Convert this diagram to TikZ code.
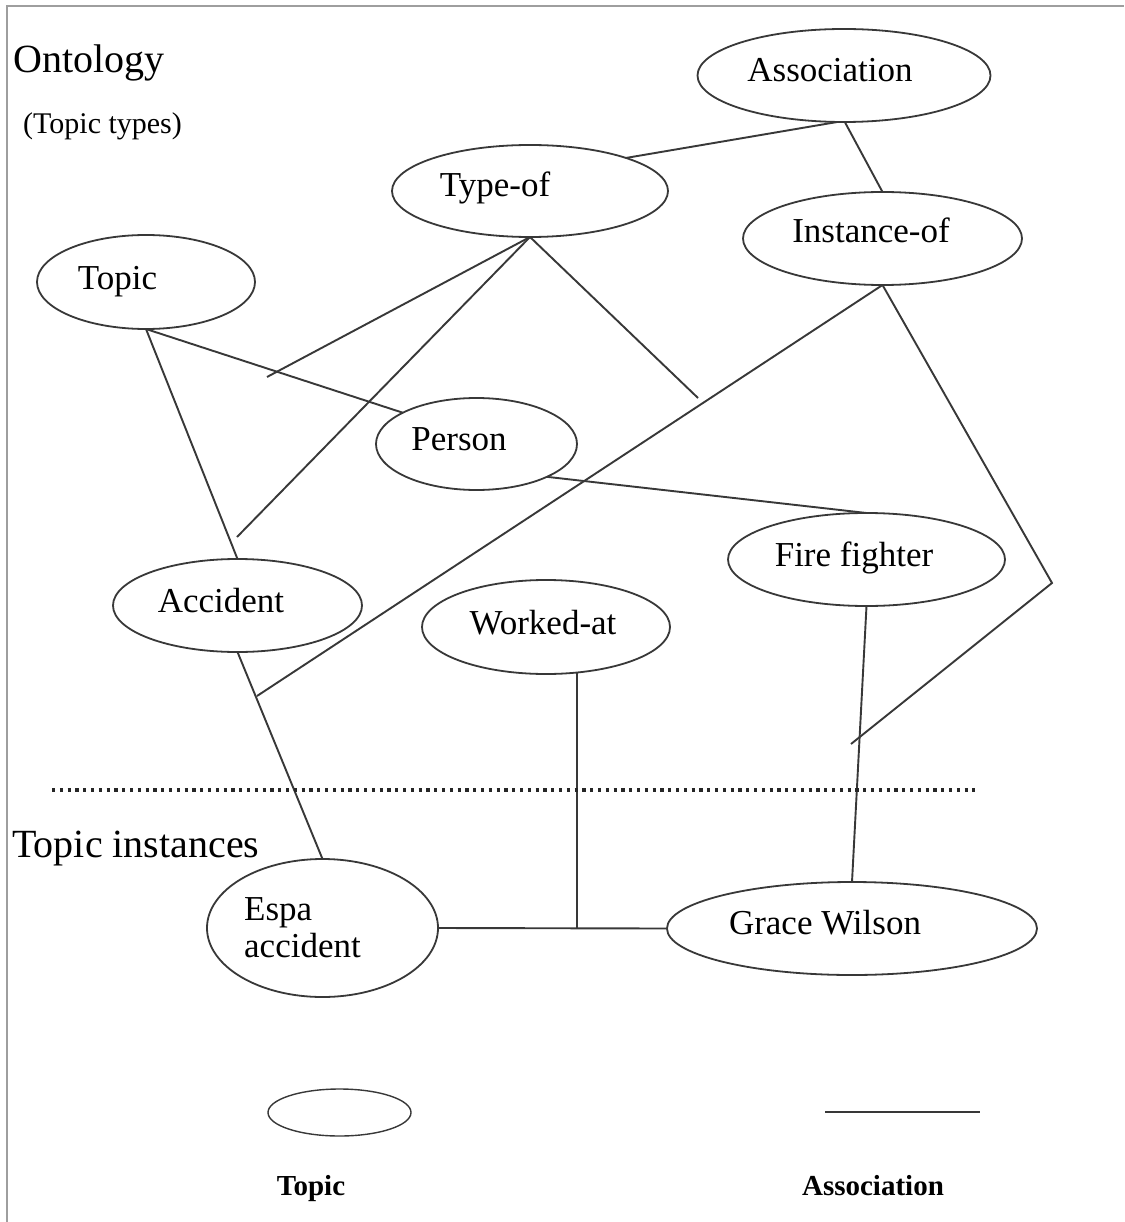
\documentclass[tikz,border=0pt]{standalone}
\usepackage{fontspec}
\setmainfont{Liberation Serif}
\usetikzlibrary{shapes.geometric}
\tikzset{
  topic/.style={draw=black!78, line width=1.8pt, ellipse, inner sep=0pt, outer sep=0pt},
  lbl/.style={font=\fontsize{35}{40}\selectfont, anchor=base, inner sep=0pt},
  head/.style={font=\fontsize{40}{46}\selectfont, anchor=base west, inner sep=0pt},
  legtext/.style={font=\fontsize{29}{34}\selectfont\bfseries, anchor=base, inner sep=0pt},
  assoc/.style={draw=black!78, line width=1.9pt},
  sep/.style={draw=black!85, line width=3.2pt, dash pattern=on 3.2pt off 4.6pt},
  frame/.style={draw=black!38, line width=2.5pt}
}
\begin{document}
\begin{tikzpicture}[x=1pt,y=-1pt]
\useasboundingbox (0,0) rectangle (1124,1222);
\fill[white] (0,0) rectangle (1124,1222);
\draw[frame] (7,1222) -- (7,6) -- (1124,6);

% headings
\node[head] (ontology) at (13,73) {Ontology};
\node[head, font=\fontsize{30}{34}\selectfont] (ttypes) at (23,134) {(Topic types)};
\node[head] (tinst) at (12,857) {Topic instances};

% topic ellipses
\node[topic, minimum width=293, minimum height=93] (association) at (844,75.5) {};
\node[topic, minimum width=276, minimum height=92] (typeof) at (530,191) {};
\node[topic, minimum width=279, minimum height=93] (instanceof) at (882.5,238.5) {};
\node[topic, minimum width=218, minimum height=94] (topic) at (146,282) {};
\node[topic, minimum width=201, minimum height=92] (person) at (476.5,444) {};
\node[topic, minimum width=277, minimum height=93] (firefighter) at (866.5,559.5) {};
\node[topic, minimum width=249, minimum height=93] (accident) at (237.5,605.5) {};
\node[topic, minimum width=248, minimum height=94] (workedat) at (546,627) {};
\node[topic, minimum width=231, minimum height=138] (espa) at (322.5,928) {};
\node[topic, minimum width=370, minimum height=93] (grace) at (852,928.5) {};

% labels
\node[lbl] (l-association) at (830,82) {Association};
\node[lbl] (l-typeof) at (495,197) {Type-of};
\node[lbl] (l-instanceof) at (871,243) {Instance-of};
\node[lbl] (l-topic) at (117.5,290) {Topic};
\node[lbl] (l-person) at (459,450) {Person};
\node[lbl] (l-firefighter) at (854,566) {Fire fighter};
\node[lbl] (l-accident) at (221,612) {Accident};
\node[lbl] (l-workedat) at (543,634) {Worked-at};
\node[lbl, anchor=base west] (l-espa1) at (244,920) {Espa};
\node[lbl, anchor=base west] (l-espa2) at (244,957) {accident};
\node[lbl] (l-grace) at (825,934) {Grace Wilson};

% free ends
\coordinate (c1) at (267,377);
\coordinate (c2) at (237,537);
\coordinate (c3) at (698,398);
\coordinate (c4) at (257,696);
\coordinate (c5) at (1052,583);
\coordinate (c6) at (851,744);
\coordinate (junction) at (workedat.-56.7 |- espa.east);

% associations
\draw[assoc] (association.-98) -- (typeof.19);
\draw[assoc] (association.-89) -- (instanceof.north);
\draw[assoc] (typeof.south) -- (c1);
\draw[assoc] (typeof.south) -- (c2);
\draw[assoc] (typeof.south) -- (c3);
\draw[assoc] (topic.south) -- (person.157);
\draw[assoc] (topic.south) -- (accident.north);
\draw[assoc] (person.-25) -- (firefighter.north);
\draw[assoc] (instanceof.south) -- (c4);
\draw[assoc] (instanceof.south) -- (c5) -- (c6);
\draw[assoc] (firefighter.south) -- (grace.north);
\draw[assoc] (accident.south) -- (espa.north);
\draw[assoc] (workedat.-56.7) -- (junction);
\draw[assoc] (espa.east) -- (grace.west);

% separator
\draw[sep] (52,790) -- (975,790);

% legend
\node[topic, line width=1.4pt, minimum width=143, minimum height=47] (legtopic) at (339.5,1112.5) {};
\coordinate (lega) at (825,1112);
\coordinate (legb) at (980,1112);
\draw[assoc] (lega) -- (legb);
\node[legtext] (lt-topic) at (311,1195) {Topic};
\node[legtext] (lt-assoc) at (873,1195) {Association};
\end{tikzpicture}
\end{document}
